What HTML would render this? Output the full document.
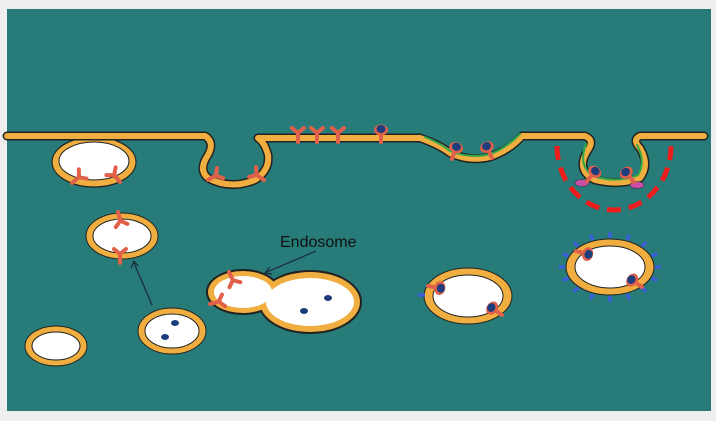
<!DOCTYPE html>
<html><head><style>html,body{margin:0;padding:0;background:#efefef}svg{display:block}</style></head><body>
<svg width="716" height="421" viewBox="0 0 716 421" xmlns="http://www.w3.org/2000/svg">
<rect x="0" y="0" width="716" height="421" fill="#efefef"/>
<rect x="7" y="9" width="704" height="402" fill="#277b78"/>
<defs>
<g id="rec"><path d="M0,0 L0,-9 M0,-9 L-6,-14 M0,-9 L6,-14" stroke="#e0604a" stroke-width="4" stroke-linecap="round" fill="none"/></g>
<g id="recl"><path d="M0,0 L0,-9" stroke="#e0604a" stroke-width="4" stroke-linecap="round"/><ellipse cx="0" cy="-12" rx="7" ry="5.5" fill="#e0604a"/><ellipse cx="0" cy="-13" rx="4.5" ry="4" fill="#1d3d7c"/></g>
</defs>
<!-- pit 1 vesicle -->
<ellipse cx="94" cy="162" rx="42" ry="25" fill="#efae3f" stroke="#222" stroke-width="1.2"/>
<!-- membrane -->
<g fill="none" stroke-linejoin="round" stroke-linecap="round">
<path d="M7,136 L205,136 Q215,142 208,155 Q198,170 208,178 Q230,190 255,180 Q270,170 268,155 Q265,143 258,138 L360,138 L420,138 Q440,145 450,153 Q470,162 490,157 Q510,150 522,136 L585,136 Q595,140 588,150 Q575,170 595,180 Q620,186 640,178 Q650,165 640,148 Q632,140 640,136 L704,136" stroke="#222" stroke-width="9"/>
<path d="M7,136 L205,136 Q215,142 208,155 Q198,170 208,178 Q230,190 255,180 Q270,170 268,155 Q265,143 258,138 L360,138 L420,138 Q440,145 450,153 Q470,162 490,157 Q510,150 522,136 L585,136 Q595,140 588,150 Q575,170 595,180 Q620,186 640,178 Q650,165 640,148 Q632,140 640,136 L704,136" stroke="#efae3f" stroke-width="6"/>
<path d="M425,137 Q440,143 450,151 Q470,159 490,154 Q505,149 520,134" stroke="#2ea84a" stroke-width="2"/>
<path d="M586,144 Q577,168 596,177 Q620,183 638,175 Q646,162 637,145" stroke="#2ea84a" stroke-width="2"/>
</g>
<ellipse cx="94" cy="161" rx="35" ry="19" fill="#fff" stroke="#222" stroke-width="1"/>
<!-- receptors on membrane -->
<use href="#rec" transform="translate(72,183) rotate(50)"/>
<use href="#rec" transform="translate(120,182) rotate(-40)"/>
<use href="#rec" transform="translate(208,180) rotate(60)"/>
<use href="#rec" transform="translate(264,180) rotate(-55)"/>
<use href="#rec" transform="translate(298,142)"/>
<use href="#rec" transform="translate(317,142)"/>
<use href="#rec" transform="translate(338,142)"/>
<use href="#recl" transform="translate(381,142)"/>
<use href="#recl" transform="translate(452,159) rotate(20)"/>
<use href="#recl" transform="translate(492,158) rotate(-25)"/>
<ellipse cx="582" cy="183" rx="7" ry="3.5" fill="#c84fa8" stroke="#333" stroke-width="0.6"/>
<ellipse cx="637" cy="185" rx="7" ry="3.5" fill="#c84fa8" stroke="#333" stroke-width="0.6"/>
<use href="#recl" transform="translate(587,181) rotate(40)"/>
<use href="#recl" transform="translate(634,182) rotate(-40)"/>
<!-- red dashed -->
<path d="M557,146 A57,64 0 0 0 671,146" fill="none" stroke="#ee1c1c" stroke-width="5" stroke-dasharray="14,8"/>
<!-- vesicles -->
<g stroke="#222" stroke-width="1">
<ellipse cx="122" cy="236" rx="36" ry="23" fill="#efae3f"/><ellipse cx="122" cy="236" rx="29" ry="17" fill="#fff"/>
<ellipse cx="56" cy="346" rx="31" ry="20" fill="#efae3f"/><ellipse cx="56" cy="346" rx="24" ry="14" fill="#fff"/>
<ellipse cx="172" cy="331" rx="34" ry="23" fill="#efae3f"/><ellipse cx="172" cy="331" rx="27" ry="17" fill="#fff"/>
<ellipse cx="468" cy="296" rx="44" ry="28" fill="#efae3f"/><ellipse cx="468" cy="296" rx="35" ry="21" fill="#fff"/>
<ellipse cx="610" cy="267" rx="44" ry="28" fill="#efae3f"/><ellipse cx="610" cy="267" rx="35" ry="21" fill="#fff"/>
</g>
<!-- blue spikes -->
<g stroke="#3a5fd8" stroke-width="3.5">
<line x1="655" y1="267" x2="661" y2="267"/><line x1="651.6" y1="278" x2="657.1" y2="280.4"/><line x1="641.8" y1="287.5" x2="646.1" y2="291.7"/><line x1="627.2" y1="293.8" x2="629.5" y2="299.3"/><line x1="610" y1="296" x2="610" y2="302"/><line x1="592.8" y1="293.8" x2="590.5" y2="299.3"/><line x1="578.2" y1="287.5" x2="573.9" y2="291.7"/><line x1="568.4" y1="278" x2="562.9" y2="280.4"/><line x1="565" y1="267" x2="559" y2="267"/><line x1="568.4" y1="256" x2="562.9" y2="253.6"/><line x1="578.2" y1="246.5" x2="573.9" y2="242.3"/><line x1="592.8" y1="240.2" x2="590.5" y2="234.7"/><line x1="610" y1="238" x2="610" y2="232"/><line x1="627.2" y1="240.2" x2="629.5" y2="234.7"/><line x1="641.8" y1="246.5" x2="646.1" y2="242.3"/><line x1="651.6" y1="256" x2="657.1" y2="253.6"/>
<line x1="418" y1="295" x2="425" y2="295"/>
</g>
<!-- endosome -->
<g stroke="#222" stroke-width="2">
<ellipse cx="243" cy="292" rx="36" ry="22" fill="#222"/><ellipse cx="310" cy="302" rx="51" ry="31" fill="#222"/>
</g>
<ellipse cx="243" cy="292" rx="35" ry="21" fill="#efae3f"/><ellipse cx="310" cy="302" rx="50" ry="30" fill="#efae3f"/>
<ellipse cx="243" cy="292" rx="29" ry="16" fill="#fff"/><ellipse cx="310" cy="302" rx="44" ry="24" fill="#fff"/>
<g fill="#1d3d7c">
<ellipse cx="328" cy="298" rx="4" ry="3"/><ellipse cx="304" cy="311" rx="4" ry="3"/>
<ellipse cx="175" cy="323" rx="4" ry="3"/><ellipse cx="165" cy="337" rx="4" ry="3"/>
</g>
<use href="#rec" transform="translate(118,212) rotate(165)"/>
<use href="#rec" transform="translate(120,263)"/>
<use href="#rec" transform="translate(229,272) rotate(155)"/>
<use href="#rec" transform="translate(210,304) rotate(75)"/>
<use href="#recl" transform="translate(428,286) rotate(100)"/>
<use href="#recl" transform="translate(502,315) rotate(-55)"/>
<use href="#recl" transform="translate(576,251) rotate(105)"/>
<use href="#recl" transform="translate(642,287) rotate(-55)"/>
<!-- arrows -->
<g stroke="#1a2a3a" stroke-width="1.2" fill="none">
<line x1="152" y1="305" x2="134" y2="263"/><path d="M131,268 L134,261 L138,266"/>
<line x1="316" y1="251" x2="267" y2="272"/><path d="M270,267 L265,273 L272,274"/>
</g>
<text x="280" y="247" font-family="Liberation Sans, sans-serif" font-size="16" fill="#111">Endosome</text>
</svg>
</body></html>
